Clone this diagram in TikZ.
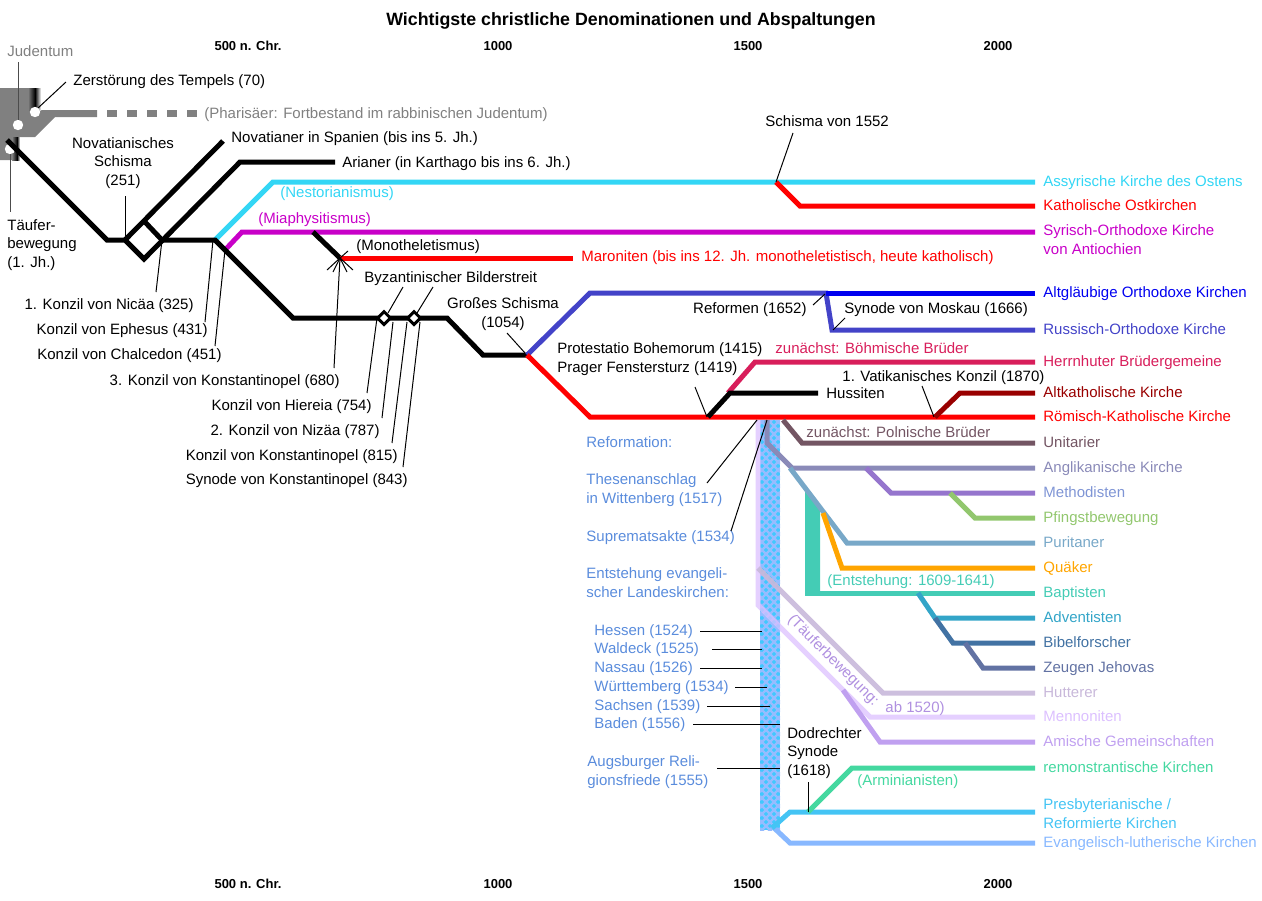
\documentclass[tikz,border=0pt]{standalone}
\usepackage{fontspec}
\setmainfont{Liberation Sans}
\usetikzlibrary{shapes.geometric}
\definecolor{jud}{HTML}{808080}
\definecolor{assyr}{HTML}{33D6F5}
\definecolor{miaph}{HTML}{C800C8}
\definecolor{orth}{HTML}{4343C8}
\definecolor{altgl}{HTML}{0000F0}
\definecolor{herrn}{HTML}{D81E5B}
\definecolor{altkath}{HTML}{990000}
\definecolor{unit}{HTML}{735563}
\definecolor{angl}{HTML}{8A8AB8}
\definecolor{meth}{HTML}{9575CD}
\definecolor{methtxt}{HTML}{7F95D5}
\definecolor{pfingst}{HTML}{92C76E}
\definecolor{purit}{HTML}{78A8C8}
\definecolor{quaek}{HTML}{FFA500}
\definecolor{bapt}{HTML}{44CCB5}
\definecolor{advent}{HTML}{33A5C8}
\definecolor{bibel}{HTML}{4272A3}
\definecolor{zeugen}{HTML}{6272A3}
\definecolor{hutter}{HTML}{C8B8DA}
\definecolor{menno}{HTML}{DCC0FF}
\definecolor{amisch}{HTML}{C0A0F0}
\definecolor{remon}{HTML}{44D8A0}
\definecolor{presby}{HTML}{44C4F4}
\definecolor{luth}{HTML}{88B8FF}
\definecolor{reftxt}{HTML}{5A8CDC}
\definecolor{taeutxt}{HTML}{B090E0}
\definecolor{barA}{HTML}{96BCFF}
\definecolor{barB}{HTML}{40C8FF}
\tikzset{
  br/.style={line width=2.5pt},
  ldr/.style={line width=0.5pt},
  tl/.style={anchor=base west,inner sep=0pt},
  tr/.style={anchor=base east,inner sep=0pt},
  tc/.style={anchor=base,inner sep=0pt,align=center},
  ml/.style={anchor=base west,inner sep=0pt,align=left},
  yr/.style={anchor=base,inner sep=0pt,font=\fontsize{6.5}{7}\selectfont\bfseries},
  bild/.style={diamond,draw,fill=white,line width=1.5pt,minimum size=7pt,inner sep=0pt}
}
\begin{document}
\begin{tikzpicture}[x=0.5pt,y=-0.5pt,font=\fontsize{7.5}{9.2}\selectfont]
\useasboundingbox (0,0) rectangle (1262,900);

\node[tc,font=\fontsize{8.9}{10}\selectfont\bfseries] (titel) at (631,25) {Wichtigste christliche Denominationen und Abspaltungen};
\foreach \jx/\jt in {248/500 n. Chr., 498/1000, 748/1500, 998/2000} {
  \node[yr] (o\jx) at (\jx,50) {\jt};
  \node[yr] (u\jx) at (\jx,888) {\jt};
}

% Judentum
\fill[jud] (0,88) -- (40,88) -- (40,110) -- (97,110) -- (97,117) -- (55,117) -- (35,137) -- (19,137) -- (19,160) -- (0,160) -- cycle;
\shade[left color=jud,right color=black] (28,88) rectangle (35,110);
\shade[left color=black,right color=white] (35,88) rectangle (41,110);
\shade[left color=jud,right color=black] (12,137) rectangle (17,160);
\shade[left color=black,right color=white] (17,137) rectangle (20,160);
\draw[jud,line width=3.5pt,dash pattern=on 5pt off 5pt] (107,113.5) -- (197,113.5);
\fill[white] (18,125) circle[radius=2.6pt] (35,112) circle[radius=2.6pt] (10,149) circle[radius=2.6pt];
\draw[ldr,black!70] (18,62) -- (18,120);
\draw[ldr] (38,108) -- (66,82);
\draw[ldr,black!70] (10,154) -- (10,212);
\node[tl,jud] (judentum) at (7,56) {Judentum};
\node[tl] (tempel) at (73,85) {Zerstörung des Tempels (70)};
\node[tl,jud] (pharis) at (204,118) {(Pharisäer: Fortbestand im rabbinischen Judentum)};
\node[ml] (taeufer1) at (7,267) {Täufer-\\bewegung\\(1. Jh.)};

% Alte Kirche
\draw[br] (7,140) -- (107,240) -- (125,240) -- (144,259) -- (240,162) -- (335,162);
\draw[br] (125,240) -- (223,141);
\draw[br,assyr] (215,240) -- (273,182) -- (1035,182);
\draw[br,miaph] (225,250) -- (242,232) -- (1035,232);
\draw[br] (144,221) -- (162,240) -- (215,240) -- (293,318) -- (447,318) -- (483,355) -- (527,355);
\draw[br] (313,232) -- (340,258);
\draw[br,red] (340,258) -- (573,258);
\draw[br,red] (776,182) -- (800,206) -- (1035,206);
\draw[ldr] (125,196) -- (125,238);
\node[tc] (novschisma) at (123,185) {Novatianisches\\Schisma\\(251)};
\node[tl] (novatianer) at (231,142) {Novatianer in Spanien (bis ins 5. Jh.)};
\node[tl] (arianer) at (342,167) {Arianer (in Karthago bis ins 6. Jh.)};
\node[tl,assyr] (nestor) at (280,197) {(Nestorianismus)};
\node[tl,miaph] (miaphys) at (258,223) {(Miaphysitismus)};
\node[tl] (monothel) at (356,250) {(Monotheletismus)};
\node[tl,red] (maroniten) at (581,261) {Maroniten (bis ins 12. Jh. monotheletistisch, heute katholisch)};
\draw[ldr] (793,133) -- (776,182);
\node[tl] (schisma1552) at (765,126) {Schisma von 1552};

% Konzile
\draw[ldr] (162,240) -- (156,292);
\draw[ldr] (213,240) -- (205,322);
\draw[ldr] (225,250) -- (215,346);
\foreach \sx/\sy in {327/270,333/272,347/272,353/270,332/251,348/251}
  \draw[ldr] (340,258) -- (\sx,\sy);
\draw[ldr] (340,258) -- (334,368);
\draw[ldr] (377,318) -- (367,393);
\draw[ldr] (393,322) -- (382,418);
\draw[ldr] (407,322) -- (392,443);
\draw[ldr] (420,322) -- (403,467);
\node[bild] (bild1) at (384,318) {};
\node[bild] (bild2) at (414,318) {};
\draw[ldr] (388,313) -- (403,287);
\draw[ldr] (417,313) -- (433,287);
\node[tl] (bilderstreit) at (364,282) {Byzantinischer Bilderstreit};
\node[tr] (nicaea) at (194,309) {1. Konzil von Nicäa (325)};
\node[tr] (ephesus) at (208,334) {Konzil von Ephesus (431)};
\node[tr] (chalcedon) at (222,359) {Konzil von Chalcedon (451)};
\node[tr] (konst680) at (340,385) {3. Konzil von Konstantinopel (680)};
\node[tr] (hiereia) at (372,410) {Konzil von Hiereia (754)};
\node[tr] (nizaea) at (380,435) {2. Konzil von Nizäa (787)};
\node[tr] (konst815) at (398,460) {Konzil von Konstantinopel (815)};
\node[tr] (konst843) at (408,484) {Synode von Konstantinopel (843)};

% Schisma 1054
\draw[br,orth] (527,355) -- (590,293) -- (826,293) -- (832,330) -- (1035,330);
\draw[br,altgl] (826,293) -- (1035,293);
\draw[br,red] (527,355) -- (590,417) -- (1035,417);
\draw[br,herrn] (728,393) -- (755,362) -- (1035,362);
\draw[br] (708,417) -- (730,393) -- (818,393);
\draw[br,altkath] (935,417) -- (960,393) -- (1035,393);
\draw[ldr] (507,333) -- (525,353);
\node[tc] (schisma) at (503,327) {Großes Schisma\\(1054)};
\draw[ldr] (813,305) -- (825,294);
\draw[ldr] (845,318) -- (833,330);
\node[tr] (reformen) at (807,313) {Reformen (1652)};
\node[tl] (moskau) at (844,313) {Synode von Moskau (1666)};
\draw[ldr] (695,387) -- (707,417);
\node[ml] (protestatio) at (557,372) {Protestatio Bohemorum (1415)\\Prager Fenstersturz (1419)};
\node[tl,herrn] (boehm) at (775,353) {zunächst: Böhmische Brüder};
\node[tl] (hussiten) at (826,398) {Hussiten};
\draw[ldr] (922,386) -- (934,417);
\node[tl] (vatikan) at (842,381) {1. Vatikanisches Konzil (1870)};

% Reformation
\fill[barB] (760,420) rectangle (780,830);
\begin{scope}
  \clip (760,420) rectangle (780,830);
  \foreach \i in {-24,-16,...,420} {
    \draw[barA,line width=1.1pt] (760,420+\i) -- ++(20,20);
    \draw[barA,line width=1.1pt] (780,420+\i) -- ++(-20,20);
  }
\end{scope}
\draw[br,menno,opacity=.75] (758,420) -- (758,605) -- (870,717) -- (1035,717);
\draw[br,hutter,opacity=.9] (758,568) -- (883,693) -- (1035,693);
\draw[br,amisch] (843,690) -- (880,742) -- (1035,742);
\fill[bapt] (805,487) -- (820,507) -- (820,595) -- (805,595) -- cycle;
\draw[br,bapt] (805,593) -- (1035,593);
\draw[br,unit] (783,420) -- (802,443) -- (1035,443);
\draw[br,angl] (767,420) -- (767,443) -- (792,468) -- (1035,468);
\draw[br,purit] (790,468) -- (847,543) -- (1035,543);
\draw[br,meth] (866,468) -- (891,493) -- (1035,493);
\draw[br,pfingst] (950,493) -- (975,518) -- (1035,518);
\draw[br,quaek] (823,513) -- (842,568) -- (1035,568);
\draw[br,advent] (918,593) -- (935,618) -- (1035,618);
\draw[br,bibel] (935,618) -- (953,643) -- (1035,643);
\draw[br,zeugen] (965,643) -- (983,668) -- (1035,668);
\draw[br,luth] (772,826) -- (790,843) -- (1035,843);
\draw[br,presby] (772,828) -- (790,812) -- (1035,812);
\draw[br,remon] (808,812) -- (852,768) -- (1035,768);
\node[tl,unit] (polnisch) at (806,437) {zunächst: Polnische Brüder};
\node[tl,bapt] (entstehung) at (827,585) {(Entstehung: 1609-1641)};
\node[tl,taeutxt,rotate=-45] (taeufer2) at (787,620) {(Täuferbewegung:};
\node[tl,taeutxt] (ab1520) at (885,712) {ab 1520)};
\node[tl,remon] (arminian) at (857,785) {(Arminianisten)};
\draw[ldr] (808,782) -- (808,812);
\node[ml] (dordrecht) at (787,775) {Dodrechter\\Synode\\(1618)};

\node[tl,reftxt] (reformation) at (586,447) {Reformation:};
\node[ml,reftxt] (thesen) at (586,503) {Thesenanschlag\\in Wittenberg (1517)};
\node[tl,reftxt] (suprem) at (586,541) {Suprematsakte (1534)};
\node[ml,reftxt] (landeskirchen) at (586,597) {Entstehung evangeli-\\scher Landeskirchen:};
\node[ml,reftxt] (augsburg) at (587,785) {Augsburger Reli-\\gionsfriede (1555)};
\draw[ldr] (707,483) -- (757,420);
\draw[ldr] (731,531) -- (767,420);
\draw[ldr] (717,768) -- (780,768);
\foreach \ly/\lx/\le/\lt in {635/700/762/Hessen (1524), 653/712/762/Waldeck (1525), 672/700/762/Nassau (1526), 691/735/767/Württemberg (1534), 710/707/770/Sachsen (1539), 728/693/780/Baden (1556)} {
  \node[tl,reftxt] (land\ly) at (594,\ly) {\lt};
  \draw[ldr] (\lx,\ly-4) -- (\le,\ly-4);
}

% Kirchen rechts
\foreach \ky/\kc/\kt in {182/assyr/Assyrische Kirche des Ostens, 206/red/Katholische Ostkirchen,
  293/altgl/Altgläubige Orthodoxe Kirchen, 330/orth/Russisch-Orthodoxe Kirche,
  362/herrn/Herrnhuter Brüdergemeine, 393/altkath/Altkatholische Kirche,
  417/red/Römisch-Katholische Kirche, 443/unit/Unitarier, 468/angl/Anglikanische Kirche,
  493/methtxt/Methodisten, 518/pfingst/Pfingstbewegung, 543/purit/Puritaner,
  568/quaek/Quäker, 593/bapt/Baptisten, 618/advent/Adventisten, 643/bibel/Bibelforscher,
  668/zeugen/Zeugen Jehovas, 693/hutter/Hutterer, 717/menno/Mennoniten,
  742/amisch/Amische Gemeinschaften, 768/remon/remonstrantische Kirchen,
  843/luth/Evangelisch-lutherische Kirchen}
  \node[tl,\kc] (k\ky) at (1043,\ky+4) {\kt};
\node[ml,miaph] (k232) at (1043,254) {Syrisch-Orthodoxe Kirche\\von Antiochien};
\node[ml,presby] (k812) at (1043,828) {Presbyterianische /\\Reformierte Kirchen};
\end{tikzpicture}
\end{document}
